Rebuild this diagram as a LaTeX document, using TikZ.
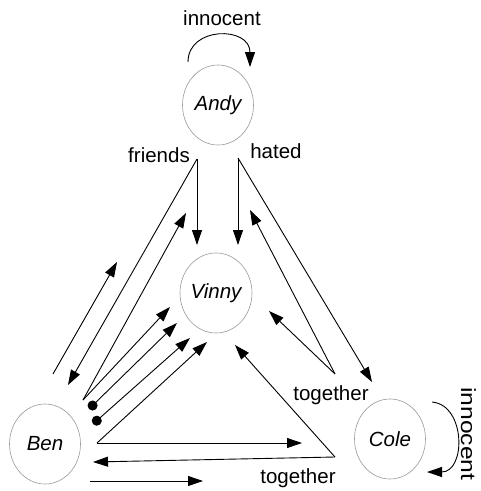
\documentclass[tikz,border=0pt]{standalone}
\usepackage{fontspec}
\setmainfont{Liberation Sans}
\usetikzlibrary{shapes.geometric,arrows.meta}

\tikzset{
    person/.style={ellipse, draw=gray!80, line width=0.6pt, minimum width=71pt, minimum height=80pt, inner sep=0pt, font=\fontsize{20.5}{24}\selectfont\itshape},
    lbl/.style={anchor=base, inner sep=0pt, font=\fontsize{20.5}{24}\selectfont},
    arr/.style={line width=0.9pt, -{Triangle[length=15pt,width=10pt]}},
    dotarr/.style={line width=0.9pt, {Circle[length=10pt]}-{Triangle[length=15pt,width=10pt]}}
}

\begin{document}
\begin{tikzpicture}[x=1pt, y=-1pt]
    \useasboundingbox (0,0) rectangle (481,491);

    % People
    \node[person] (andy) at (218,105) {Andy};
    \node[person] (vinny) at (216,293) {Vinny};
    \node[person] (ben) at (45,444) {Ben};
    \node[person] (cole) at (390,439) {Cole};

    % Labels
    \node[lbl] (innA) at (222,25) {innocent};
    \node[lbl] (friends) at (159,162) {friends};
    \node[lbl] (hated) at (276,158) {hated};
    \node[lbl] (togR) at (331,400) {together};
    \node[lbl] (togB) at (298,483) {together};
    \node[lbl, rotate=-90, xscale=1.2] (innC) at (461,434) {innocent};

    % Start and end points
    \foreach \name/\x/\y in {fa/197/159, f2v/197/245, f2b/68/385,
        ha/238/158, h2v/238/245, h2c/372/382,
        tj/335/374, t2h/250/210, t2v/269/311,
        bj/83/400, b2f/186/213, b2v/170/307,
        d1/89/409, d1v/177/323, d2/93/424, d2v/190/338,
        bv/97/443, bv2v/207/342, bv2r/302/443,
        bt/335/457, bt2v/235/345, bt2b/93/462,
        bn/53/374, bn2a/117/262, bb/90/481, bb2r/203/481,
        la1/188/62, la2/250/67, lc1/432/402, lc2/427/472} {
        \coordinate (\name) at (\x,\y);
    }

    % Arrows
    \foreach \a/\b in {fa/f2v, fa/f2b, ha/h2v, ha/h2c, tj/t2h, tj/t2v, bj/b2f, bj/b2v,
        bv/bv2v, bv/bv2r, bt/bt2v, bt/bt2b, bn/bn2a, bb/bb2r} {
        \draw[arr] (\a) -- (\b);
    }
    \draw[dotarr] (d1) -- (d1v);
    \draw[dotarr] (d2) -- (d2v);

    % Self loops
    \draw[arr] (la1) .. controls (188,26) and (250,26) .. (la2);
    \draw[arr] (lc1) .. controls (466,405) and (466,472) .. (lc2);

\end{tikzpicture}
\end{document}
